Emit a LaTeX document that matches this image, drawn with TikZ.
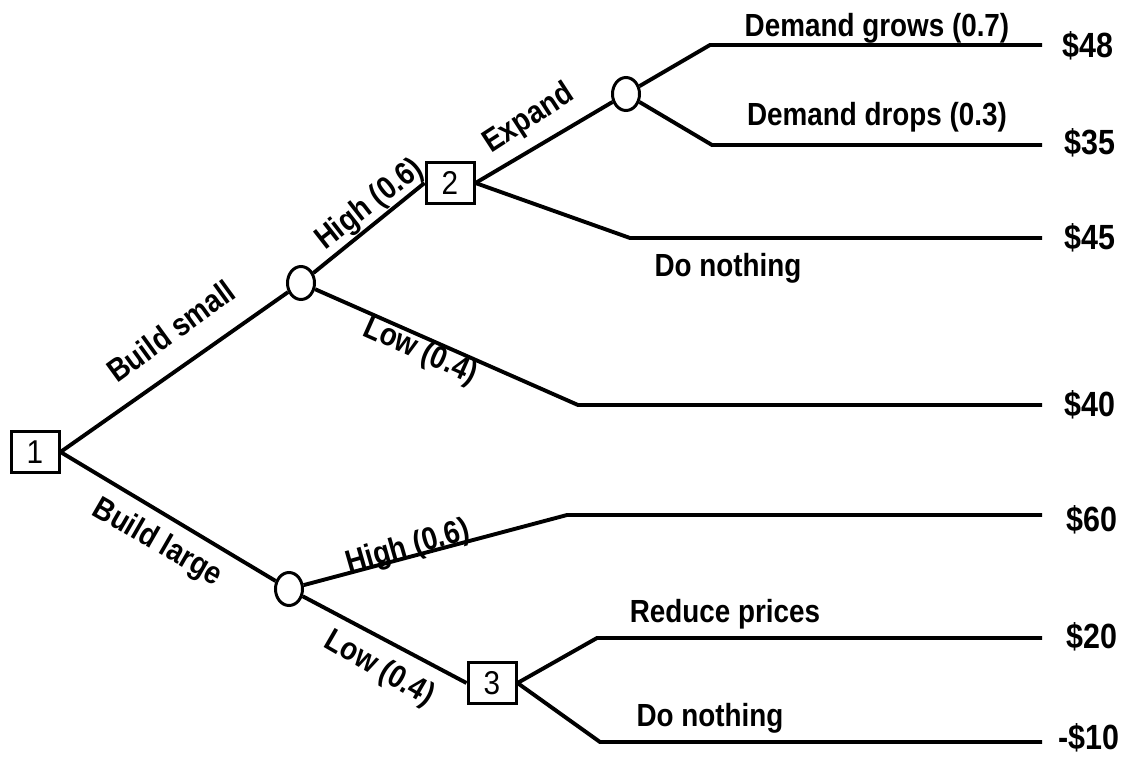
\documentclass[tikz,border=0pt]{standalone}
\usepackage{fontspec}
\setmainfont{Liberation Sans}
\newfontfamily\narrowbold[FakeStretch=0.87]{Liberation Sans Bold}
\newfontfamily\narrowreg[FakeStretch=0.9]{Liberation Sans}
\usetikzlibrary{shapes.geometric}
\begin{document}
\begin{tikzpicture}[x=1pt,y=-1pt,
  branch/.style={line width=3.9pt,line join=miter},
  decision/.style={draw,line width=3pt,rectangle,minimum width=48pt,minimum height=41pt,inner sep=0pt,font=\narrowreg\fontsize{33}{33}\selectfont},
  chance/.style={draw,line width=3pt,ellipse,minimum width=27pt,minimum height=33pt,inner sep=0pt},
  lbl/.style={font=\narrowbold\fontsize{32}{32}\selectfont,inner sep=0pt},
  val/.style={font=\narrowbold\fontsize{35}{35}\selectfont,inner sep=0pt,anchor=west}]
\useasboundingbox (0,0) rectangle (1144,758);

% decision and chance nodes
\node[decision] (d1) at (35,452) {1};
\node[decision] (d2) at (450,183) {2};
\node[decision] (d3) at (492,683) {3};
\node[chance] (cs) at (301,283) {};
\node[chance] (ce) at (626,94) {};
\node[chance] (cl) at (289,589) {};

% bends and leaf ends
\coordinate (b48) at (710,45);   \coordinate (t48) at (1042,45);
\coordinate (b35) at (712,145);  \coordinate (t35) at (1042,145);
\coordinate (b45) at (630,238);  \coordinate (t45) at (1042,238);
\coordinate (b40) at (578,405);  \coordinate (t40) at (1042,405);
\coordinate (b60) at (567,515);  \coordinate (t60) at (1042,515);
\coordinate (b20) at (597,638);  \coordinate (t20) at (1042,638);
\coordinate (b10) at (600,742);  \coordinate (t10) at (1042,742);

% branches
\draw[branch] (d1.east) -- (cs);
\draw[branch] (d1.east) -- (cl);
\draw[branch] (cs) -- (d2.west);
\draw[branch] (cs) -- (b40) -- (t40);
\draw[branch] (d2.east) -- (ce);
\draw[branch] (d2.east) -- (b45) -- (t45);
\draw[branch] (ce) -- (b48) -- (t48);
\draw[branch] (ce) -- (b35) -- (t35);
\draw[branch] (cl) -- (b60) -- (t60);
\draw[branch] (cl) -- (d3.west);
\draw[branch] (d3.east) -- (b20) -- (t20);
\draw[branch] (d3.east) -- (b10) -- (t10);

% branch labels
\node[lbl,rotate=36] at (171,331) {Build small};
\node[lbl,rotate=-30] at (157,543) {Build large};
\node[lbl,rotate=38] at (370,205) {High (0.6)};
\node[lbl,rotate=-24] at (420,352) {Low (0.4)};
\node[lbl,rotate=33] at (529,119) {Expand};
\node[lbl] at (877,28) {Demand grows (0.7)};
\node[lbl] at (877,117) {Demand drops (0.3)};
\node[lbl] at (728,268) {Do nothing};
\node[lbl,rotate=16] at (408,548) {High (0.6)};
\node[lbl,rotate=-30] at (379,669) {Low (0.4)};
\node[lbl] at (725,614) {Reduce prices};
\node[lbl] at (710,718) {Do nothing};

% payoffs
\node[val] at (1062,46) {\$48};
\node[val] at (1064,143) {\$35};
\node[val] at (1064,238) {\$45};
\node[val] at (1064,405) {\$40};
\node[val] at (1066,520) {\$60};
\node[val] at (1066,637) {\$20};
\node[val] at (1058,738) {-\$10};
\end{tikzpicture}
\end{document}
